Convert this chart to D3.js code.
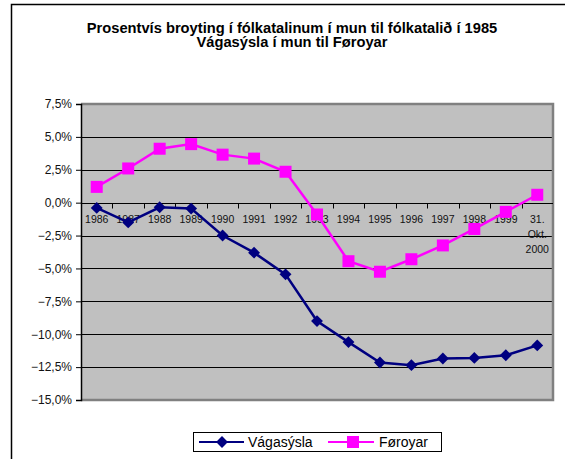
<!DOCTYPE html>
<html>
<head>
<meta charset="utf-8">
<script src="https://cdn.jsdelivr.net/npm/d3@7"></script>
<style>
body { margin: 0; background: #fff; }
svg { display: block; font-family: Arial, "Liberation Sans", sans-serif; }
</style>
</head>
<body>
<div id="chart"></div>
<script>
// data
var years = ["1986","1987","1988","1989","1990","1991","1992","1993","1994","1995","1996","1997","1998","1999","31. Okt. 2000"];
var vagasysla = [-0.4, -1.5, -0.35, -0.45, -2.5, -3.8, -5.45, -9.0, -10.6, -12.15, -12.35, -11.85, -11.8, -11.6, -10.85];
var foroyar = [1.2, 2.6, 4.1, 4.45, 3.65, 3.35, 2.35, -0.9, -4.45, -5.25, -4.3, -3.25, -2.0, -0.7, 0.6];
var yTicks = [7.5, 5, 2.5, 0, -2.5, -5, -7.5, -10, -12.5, -15];
var titleLines = ["Prosentvís broyting í fólkatalinum í mun til fólkatalið í 1985", "Vágasýsla í mun til Føroyar"];

var W = 565, H = 459;
// plot area edges (note: "top" is reserved on window)
var pL = 81, pR = 553, pT = 104, pB = 400;

var svg = d3.select("#chart").append("svg").attr("width", W).attr("height", H);

// outer chart frame (runs off the right/bottom edge)
svg.append("rect").attr("x", 11.5).attr("y", 4.5).attr("width", 600).attr("height", 500)
  .attr("fill", "none").attr("stroke", "#000").attr("stroke-width", 1.5);

// title
svg.selectAll("text.title").data(titleLines).enter().append("text")
  .attr("class", "title")
  .attr("x", 292).attr("y", function(d, i){ return 32.5 + i*14.5; })
  .attr("text-anchor", "middle").style("font-size", "14.7px").style("font-weight", "bold")
  .text(function(d){ return d; });

var x = d3.scaleBand().domain(years).range([pL, pR]);
var y = d3.scaleLinear().domain([-15, 7.5]).range([pB, pT]);

// plot area
svg.append("rect").attr("x", pL).attr("y", pT).attr("width", pR-pL).attr("height", pB-pT)
  .attr("fill", "#c0c0c0");

// gridlines
svg.append("g").selectAll("line").data(yTicks.filter(function(d){ return d > -15 && d < 7.5; }))
  .enter().append("line")
  .attr("x1", pL).attr("x2", pR)
  .attr("y1", function(d){ return Math.round(y(d)) + 0.5; })
  .attr("y2", function(d){ return Math.round(y(d)) + 0.5; })
  .attr("stroke", "#000").attr("stroke-width", 1);

// plot border (gray top/right/bottom)
svg.append("path")
  .attr("d", "M" + pL + "," + pT + "H" + pR + "V" + pB + "H" + pL)
  .attr("fill", "none").attr("stroke", "#808080").attr("stroke-width", 2.5);

// y axis
var yAxis = d3.axisLeft(y).tickValues(yTicks).tickSize(5).tickPadding(4)
  .tickFormat(function(d){ return d3.format(".1f")(d).replace(".", ",") + "%"; });
var gy = svg.append("g").attr("transform", "translate(" + pL + ",0)").call(yAxis);
gy.select(".domain").attr("stroke", "#000").attr("stroke-width", 1.5);
gy.selectAll("text").style("font-size", "12px").attr("fill", "#111").attr("font-family", "Arial, 'Liberation Sans', sans-serif");

// x axis along 0 line, ticks on category boundaries
var gx = svg.append("g").attr("transform", "translate(0," + (Math.round(y(0)) + 0.5) + ")");
gx.append("line").attr("x1", pL).attr("x2", pR).attr("stroke", "#000");
gx.selectAll("line.tk").data(years.slice(1)).enter().append("line").attr("class", "tk")
  .attr("x1", function(d){ return Math.round(x(d)) + 0.5; })
  .attr("x2", function(d){ return Math.round(x(d)) + 0.5; })
  .attr("y1", 0).attr("y2", 5).attr("stroke", "#000");
var xl = gx.selectAll("text").data(years).enter().append("text")
  .attr("text-anchor", "middle").style("font-size", "10.5px").attr("fill", "#111")
  .attr("transform", function(d){ return "translate(" + (x(d) + x.bandwidth()/2) + ",19)"; });
xl.each(function(d){
  var parts = d.indexOf("Okt") >= 0 ? ["31.", "Okt.", "2000"] : [d];
  d3.select(this).selectAll("tspan").data(parts).enter().append("tspan")
    .attr("x", 0).attr("dy", function(p, i){ return i ? 15 : 0; }).text(function(p){ return p; });
});

// lines
var line = d3.line().x(function(d, i){ return x(years[i]) + x.bandwidth()/2; }).y(function(d){ return y(d); });

svg.append("path").datum(foroyar).attr("d", line).attr("fill", "none")
  .attr("stroke", "#ff00ff").attr("stroke-width", 2.5);
svg.append("g").selectAll("rect").data(foroyar).enter().append("rect")
  .attr("x", function(d, i){ return x(years[i]) + x.bandwidth()/2 - 6; })
  .attr("y", function(d){ return y(d) - 6; })
  .attr("width", 12).attr("height", 12).attr("fill", "#ff00ff");

svg.append("path").datum(vagasysla).attr("d", line).attr("fill", "none")
  .attr("stroke", "#000080").attr("stroke-width", 2.5);
var diamond = d3.symbol().type(d3.symbolDiamond2).size(90);
svg.append("g").selectAll("path").data(vagasysla).enter().append("path")
  .attr("d", diamond)
  .attr("transform", function(d, i){ return "translate(" + (x(years[i]) + x.bandwidth()/2) + "," + y(d) + ")"; })
  .attr("fill", "#000080");

// legend
var lg = svg.append("g");
lg.append("rect").attr("x", 193.5).attr("y", 432.5).attr("width", 248).attr("height", 19)
  .attr("fill", "#fff").attr("stroke", "#000");
lg.append("line").attr("x1", 199).attr("x2", 244).attr("y1", 442).attr("y2", 442)
  .attr("stroke", "#000080").attr("stroke-width", 2);
lg.append("path").attr("d", diamond).attr("transform", "translate(222,442)").attr("fill", "#000080");
lg.append("text").attr("x", 248).attr("y", 447).style("font-size", "14px").text("Vágasýsla");
lg.append("line").attr("x1", 328).attr("x2", 374).attr("y1", 442).attr("y2", 442)
  .attr("stroke", "#ff00ff").attr("stroke-width", 2);
lg.append("rect").attr("x", 347).attr("y", 436).attr("width", 12).attr("height", 12).attr("fill", "#ff00ff");
lg.append("text").attr("x", 379).attr("y", 447).style("font-size", "14px").text("Føroyar");
</script>
</body>
</html>
